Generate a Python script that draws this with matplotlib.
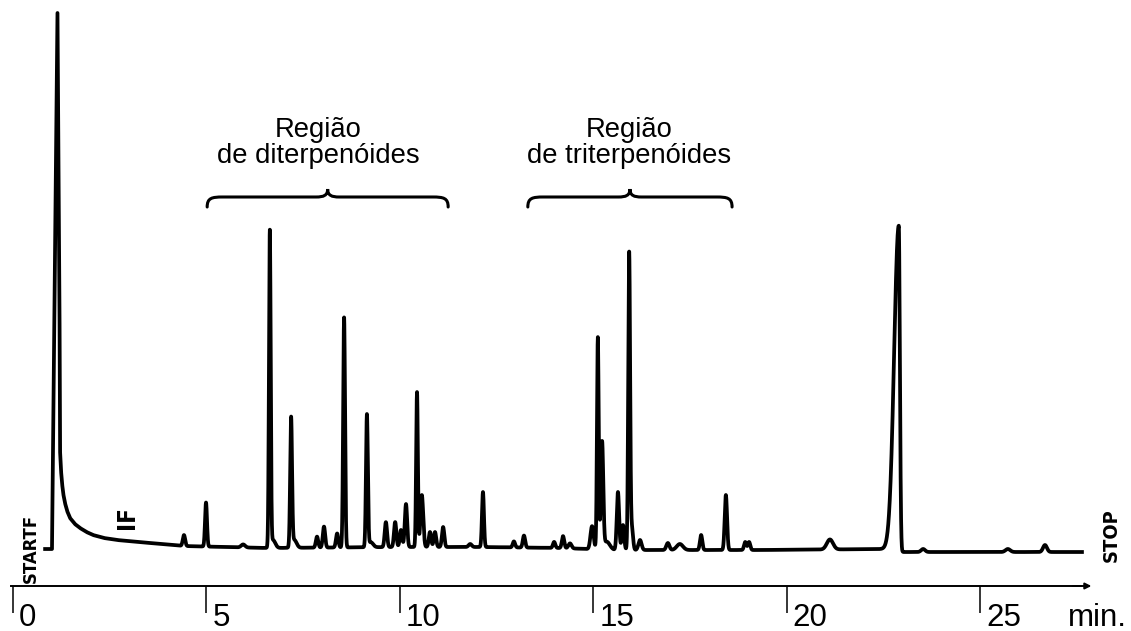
import numpy as np
import matplotlib
matplotlib.use("Agg")
import matplotlib.pyplot as plt
from matplotlib.path import Path
from matplotlib.patches import PathPatch
from matplotlib import font_manager
from matplotlib.transforms import offset_copy

# ---------------- data ----------------
# baseline (including solvent front and its tail): time [min], detector signal [a.u.]
base_time = [0.83, 1.008, 1.150, 1.202, 1.215, 1.240, 1.267, 1.300, 1.344, 1.400,
             1.474, 1.600, 1.732, 1.900, 2.068, 2.350, 2.689, 3.100, 3.542, 4.395,
             6.567, 10.005, 12.073, 14.142, 15.564, 16.210, 19.312, 22.60, 22.932,
             27.637]
base_signal = [37, 37, 573, 286, 136, 116, 103, 92, 83, 75,
               68, 62, 58, 54, 51, 48, 46, 44.5, 43, 40,
               38, 39, 39, 38, 36, 36, 36, 37, 34,
               34]

# resolved peaks: retention time [min], height above baseline, left / right width [min]
peak_time = [4.42, 4.99, 5.95, 6.64, 6.72, 7.19, 7.27, 7.86, 8.04, 8.38,
             8.56, 9.15, 9.25, 9.64, 9.88, 10.03, 10.16, 10.445, 10.57, 10.78,
             10.91, 11.12, 11.82, 12.15, 12.95, 13.21, 13.99, 14.22, 14.40, 14.97,
             15.12, 15.23, 15.35, 15.64, 15.77, 15.93, 16.00, 16.21, 16.93, 17.24,
             17.79, 18.43, 18.93, 19.03, 21.12, 22.90, 23.53, 25.72, 26.68]
peak_height = [11, 44, 3, 315, 8, 128, 8, 11, 21, 14,
               230, 132, 5, 25, 25, 17, 43, 155, 52, 15,
               15, 20, 3, 55, 6, 12, 6, 12, 5, 23,
               212, 106, 8, 58, 25, 297, 22, 10, 7, 6,
               15, 55, 8, 8, 10, 326, 3, 3, 7]
peak_width_left = [0.03, 0.025, 0.05, 0.022, 0.06, 0.024, 0.06, 0.03, 0.03, 0.03,
                   0.024, 0.024, 0.06, 0.03, 0.03, 0.03, 0.03, 0.022, 0.035, 0.03,
                   0.03, 0.03, 0.04, 0.025, 0.03, 0.03, 0.03, 0.03, 0.04, 0.04,
                   0.022, 0.03, 0.08, 0.03, 0.03, 0.024, 0.03, 0.04, 0.04, 0.08,
                   0.03, 0.03, 0.03, 0.03, 0.08, 0.12, 0.05, 0.06, 0.05]
peak_width_right = [0.03, 0.025, 0.05, 0.022, 0.06, 0.024, 0.06, 0.03, 0.03, 0.03,
                    0.024, 0.024, 0.06, 0.03, 0.03, 0.03, 0.03, 0.022, 0.035, 0.03,
                    0.03, 0.03, 0.04, 0.025, 0.03, 0.03, 0.03, 0.03, 0.04, 0.04,
                    0.022, 0.03, 0.08, 0.03, 0.03, 0.024, 0.03, 0.04, 0.04, 0.08,
                    0.03, 0.03, 0.03, 0.03, 0.08, 0.028, 0.05, 0.06, 0.05]

tick_values = [0, 5, 10, 15, 20, 25]
tick_labels = ["0", "5", "10", "15", "20", "25"]
axis_unit = "min."

region_line1 = ["Região", "Região"]
region_line2 = ["de diterpenóides", "de triterpenóides"]
region_start = [5.02, 13.31]
region_end = [11.25, 18.59]
region_label_time = [7.90, 15.94]

# ---------------- figure ----------------
PX_PER_MIN = 38.68
X0_PX = 13
fig = plt.figure(figsize=(11.31, 6.31), dpi=100)
ax = fig.add_axes([0, 0, 1, 1])
ax.set_xlim(-X0_PX / PX_PER_MIN, (1131 - X0_PX) / PX_PER_MIN)
ax.set_ylim(-45, 586)

grid = np.arange(base_time[0], base_time[-1], 0.002)
signal = np.interp(grid, base_time, base_signal)
for rt, h, wl, wr in zip(peak_time, peak_height, peak_width_left, peak_width_right):
    w = np.where(grid < rt, wl, wr)
    signal = signal + h * np.exp(-0.5 * ((grid - rt) / w) ** 2)
ax.plot(grid, signal, color="black", lw=2.7, solid_joinstyle="round")

# axis
for s in ["left", "right", "top"]:
    ax.spines[s].set_visible(False)
ax.spines["bottom"].set_position(("data", 0))
ax.spines["bottom"].set_bounds(-0.05, 27.6)
ax.spines["bottom"].set_linewidth(1.4)
ax.set_yticks([])
ax.set_xticks(tick_values)
ax.tick_params(axis="x", direction="out", length=19.5, width=1.1, labelbottom=False)
ax.annotate("", xy=(27.88, 0), xytext=(27.4, 0),
            arrowprops=dict(arrowstyle="-|>", lw=1.4, color="black", mutation_scale=9,
                            shrinkA=0, shrinkB=0))

lbl_tr = offset_copy(ax.transData, fig=fig, x=6, y=0, units="dots")
for v, l in zip(tick_values, tick_labels):
    ax.text(v, -40, l, transform=lbl_tr, fontsize=22.5, family="Liberation Sans",
            ha="left", va="baseline")
ax.text(27.28, -40, axis_unit, fontsize=22.5, family="Liberation Sans",
        ha="left", va="baseline")

# region annotations with curly braces
def brace(x0, x1, xm, y_end, y_bar, y_tip, r_end, r_tip):
    verts = [(x0, y_end), (x0, y_bar - 1), (x0 + 0.3 * r_end, y_bar), (x0 + r_end, y_bar),
             (xm - r_tip, y_bar),
             (xm - 0.35 * r_tip, y_bar), (xm, y_bar + 1.5), (xm, y_tip),
             (xm, y_bar + 1.5), (xm + 0.35 * r_tip, y_bar), (xm + r_tip, y_bar),
             (x1 - r_end, y_bar),
             (x1 - 0.3 * r_end, y_bar), (x1, y_bar - 1), (x1, y_end)]
    codes = [Path.MOVETO, Path.CURVE4, Path.CURVE4, Path.CURVE4,
             Path.LINETO,
             Path.CURVE4, Path.CURVE4, Path.CURVE4,
             Path.CURVE4, Path.CURVE4, Path.CURVE4,
             Path.LINETO,
             Path.CURVE4, Path.CURVE4, Path.CURVE4]
    ax.add_patch(PathPatch(Path(verts, codes), facecolor="none", edgecolor="black",
                           lw=2.2, capstyle="round"))

for l1, l2, a, b, lt in zip(region_line1, region_line2, region_start, region_end,
                            region_label_time):
    ax.text(lt, 449, l1, ha="center", va="baseline", fontsize=19.7, family="Liberation Sans")
    ax.text(lt, 423, l2, ha="center", va="baseline", fontsize=19.7, family="Liberation Sans")
    brace(a, b, (a + b) / 2, 379, 389, 397, 0.4, 0.3)

# instrument markers
fonts = font_manager.fontManager.ttflist
names = {f.name for f in fonts}
condensed = any(f.name == "DejaVu Sans" and "condensed" in str(f.stretch) for f in fonts)
if "Liberation Sans Narrow" in names:
    mfam, stretch, k = "Liberation Sans Narrow", "normal", 1.3
elif condensed:
    mfam, stretch, k = "DejaVu Sans", "condensed", 1.15
else:
    mfam, stretch, k = "DejaVu Sans", "normal", 1.0
ax.text(0.465, 3, "STARTF", rotation=90, ha="center", va="bottom",
        fontsize=11.5 * k, fontweight="bold", family=mfam, fontstretch=stretch)
ax.text(2.96, 68, "IF", rotation=90, ha="center", va="center",
        fontsize=15 * k, fontweight="bold", family=mfam, fontstretch=stretch)
ax.text(28.39, 51, "STOP", rotation=90, ha="center", va="center",
        fontsize=12.5 * k, fontweight="bold", family=mfam, fontstretch=stretch)

fig.savefig("out.png", dpi=100)
